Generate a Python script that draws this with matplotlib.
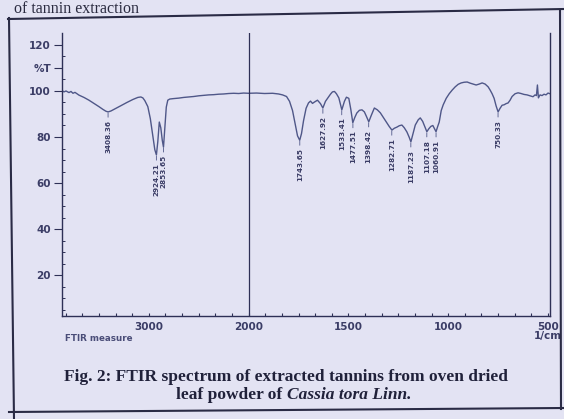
import numpy as np
import matplotlib
matplotlib.use("Agg")
import matplotlib.pyplot as plt
from matplotlib.lines import Line2D

# spectrum (wavenumber in 1/cm, %T)
wavenumber = [
    3870, 3850, 3830, 3800, 3780, 3760, 3740, 3700, 3650, 3600,
    3550, 3500, 3460, 3430, 3408, 3380, 3340, 3280, 3220, 3160,
    3110, 3080, 3060, 3040, 3010, 2985, 2960, 2940, 2924, 2910,
    2895, 2880, 2865, 2853, 2840, 2825, 2810, 2790, 2750, 2700,
    2650, 2600, 2550, 2500, 2450, 2400, 2350, 2300, 2250, 2200,
    2150, 2100, 2050, 2000, 1960, 1920, 1880, 1850, 1830, 1810,
    1795, 1780, 1765, 1755, 1744, 1735, 1725, 1712, 1700, 1690,
    1680, 1670, 1655, 1640, 1628, 1615, 1600, 1590, 1580, 1570,
    1560, 1548, 1533, 1520, 1510, 1498, 1488, 1478, 1468, 1458,
    1445, 1432, 1420, 1410, 1398, 1385, 1370, 1355, 1340, 1325,
    1310, 1295, 1282, 1270, 1257, 1245, 1232, 1220, 1207, 1196,
    1187, 1176, 1165, 1150, 1140, 1128, 1117, 1107, 1097, 1087,
    1077, 1068, 1061, 1053, 1045, 1035, 1025, 1010, 995, 980,
    965, 950, 935, 920, 905, 890, 875, 860, 845, 830,
    815, 800, 790, 780, 770, 760, 750, 740, 730, 720,
    710, 700, 690, 680, 665, 650, 635, 620, 605, 590,
    575, 565, 558, 553, 548, 540, 530, 520, 510, 500,
    490,
]
transmittance = [
    100.2, 99.6, 100.0, 99.3, 99.8, 99.0, 99.4, 98.2, 97.2, 96.0,
    94.6, 93.2, 92.0, 91.2, 90.9, 91.3, 92.2, 93.6, 95.0, 96.3,
    97.2, 97.4, 97.0, 95.8, 93.2, 88.0, 80.5, 74.5, 72.2, 78.0,
    86.5, 84.0, 78.5, 75.6, 84.0, 93.0, 96.0, 96.5, 96.7, 96.9,
    97.2, 97.4, 97.6, 97.9, 98.1, 98.3, 98.4, 98.6, 98.7, 98.9,
    99.0, 98.9, 99.1, 99.0, 99.1, 98.9, 99.0, 98.7, 98.3, 97.6,
    95.5, 91.5, 85.0, 80.5, 78.6, 81.5, 87.0, 92.5, 94.8, 95.6,
    94.6, 95.2, 96.0, 94.5, 92.6, 95.5, 97.4, 98.6, 99.6, 99.8,
    98.8, 97.0, 91.8, 95.5, 97.3, 96.8, 92.0, 86.2, 88.5, 90.4,
    91.6, 91.8, 90.9, 89.0, 86.6, 89.5, 92.6, 91.8, 90.5, 88.5,
    86.5, 84.5, 83.0, 83.8, 84.3, 84.9, 85.2, 84.0, 82.2, 80.0,
    77.9, 81.5, 85.2, 87.5, 88.3, 86.8, 84.5, 82.3, 83.6, 84.6,
    85.0, 83.5, 82.3, 84.5, 86.5, 91.5, 94.0, 96.8, 98.8, 100.4,
    101.8, 102.9, 103.5, 103.8, 103.9, 103.4, 103.0, 102.6, 103.0, 103.5,
    103.0, 101.8, 100.4, 98.8, 96.8, 93.5, 90.9, 92.5, 93.8, 94.0,
    94.5, 94.8, 96.0, 97.6, 98.8, 99.2, 98.9, 98.5, 98.3, 97.9,
    97.5, 98.3, 98.0, 102.6, 97.0, 98.3, 98.0, 98.6, 98.3, 99.1,
    98.8,
]

# labelled peaks
peak_wn = [3408.36, 2924.21, 2853.65, 1743.65, 1627.92, 1533.41, 1477.51,
           1398.42, 1282.71, 1187.23, 1107.18, 1060.91, 750.33]

x_ticks = [3000, 2000, 1500, 1000, 500]
x_ticklabels = ["3000", "2000", "1500", "1000", "500\n1/cm"]
y_ticks = [20, 40, 60, 80, 100, 110, 120]
y_ticklabels = ["20", "40", "60", "80", "100", "%T", "120"]

BG = "#e3e3f3"
INK = "#2e3056"
LINE = "#4f5788"
TXT = "#3b3d66"

W, H = 564, 419


def px(x, y):
    return x / W, 1 - y / H


# wavenumber axis: above 2000 1/cm compressed by half
def fwd(w):
    w = np.asarray(w, dtype=float)
    return np.where(w <= 2000, w, 2000 + (w - 2000) * 0.5)


def inv(u):
    u = np.asarray(u, dtype=float)
    return np.where(u <= 2000, u, 2000 + (u - 2000) * 2.0)


fig = plt.figure(figsize=(W / 100, H / 100), dpi=100, facecolor=BG)
l, b = px(62, 316)
r, t = px(550, 33)
ax = fig.add_axes([l, b, r - l, t - b])
ax.set_facecolor(BG)

ax.set_xscale("function", functions=(fwd, inv))
ax.plot(wavenumber, transmittance, color=LINE, lw=1.0)
ax.set_xlim(3870, 490)
ax.set_ylim(2.2, 125.2)
ax.axvline(2000, color=INK, lw=0.9)

# peak markers
wn_r = np.array(wavenumber[::-1], dtype=float)
tr_r = np.array(transmittance[::-1], dtype=float)
for w in peak_wn:
    tv = float(np.interp(w, wn_r, tr_r))
    ax.annotate(f"{w:.2f}", xy=(w, tv - 0.5), xytext=(0, -5), textcoords="offset points",
                rotation=90, ha="center", va="top", fontsize=5.2, fontweight="bold", color=TXT,
                arrowprops=dict(arrowstyle="-", color=LINE, lw=0.6, shrinkA=0, shrinkB=0))

# axes styling
for side in ["left", "bottom", "right"]:
    ax.spines[side].set_color(INK)
    ax.spines[side].set_linewidth(1.0)
ax.spines["top"].set_visible(False)

ax.set_yticks(y_ticks)
ax.set_yticklabels(y_ticklabels)
ax.set_yticks(np.arange(5, 125, 5), minor=True)
ax.set_xticks(x_ticks)
ax.set_xticklabels(x_ticklabels)
minor_x = [2000 + k * 1000 / 6 for k in range(1, 12)] + [2000 - k * 500 / 6 for k in range(1, 19)]
ax.set_xticks(minor_x, minor=True)

ax.tick_params(axis="y", which="major", direction="out", length=6, width=0.8, pad=2,
               colors=INK, labelcolor=TXT, labelsize=7.5)
ax.tick_params(axis="y", which="minor", direction="in", length=2.5, width=0.7, colors=INK)
ax.tick_params(axis="x", which="both", direction="in", length=2.5, width=0.8, pad=4,
               colors=INK, labelcolor=TXT, labelsize=7.5)
for lbl in ax.get_xticklabels() + ax.get_yticklabels():
    lbl.set_fontweight("bold")
    lbl.set_linespacing(0.95)

fx, fy = px(65, 338)
fig.text(fx, fy, "FTIR measure", fontsize=6.3, fontweight="bold", color="#4a4d78",
         ha="left", va="center")

# page frame
for (x0, y0), (x1, y1) in [((9, 18), (14, 419)), ((8, 19), (564, 9)),
                           ((560, 10), (561, 409)), ((9, 412), (564, 408))]:
    a, c = px(x0, y0)
    d, e = px(x1, y1)
    fig.add_artist(Line2D([a, d], [c, e], transform=fig.transFigure, color="#2a2b45", lw=1.5))

# caption
serif = "Liberation Serif"
cx, cy = px(286, 377)
fig.text(cx, cy, "Fig. 2: FTIR spectrum of extracted tannins from oven dried",
         family=serif, fontweight="bold", fontsize=12.5, color="#20213a", ha="center", va="center")
cx, cy = px(287, 395)
fig.text(cx, cy, "leaf powder of ", family=serif, fontweight="bold", fontsize=12.5,
         color="#20213a", ha="right", va="center")
fig.text(cx, cy, "Cassia tora Linn.", family=serif, fontweight="bold", fontstyle="italic",
         fontsize=12.5, color="#20213a", ha="left", va="center")

# line of body text above the frame
tx, ty = px(14, 13)
fig.text(tx, ty, "of tannin extraction", family=serif, fontsize=11.5, color="#2a2b40",
         ha="left", va="baseline")

fig.savefig("out.png", dpi=100, facecolor=BG)
